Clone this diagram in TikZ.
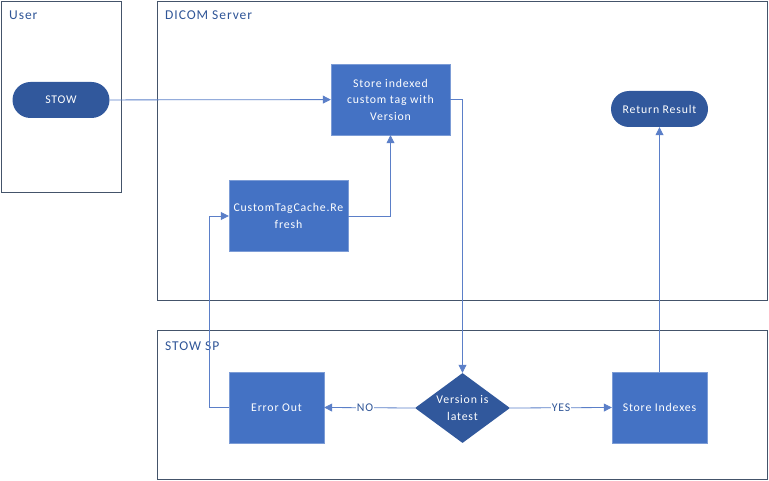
\documentclass[tikz,border=0pt]{standalone}
\usepackage{fontspec}
\setmainfont{Carlito}
\newfontfamily\boxfont[LetterSpace=7]{Carlito}
\usepackage{xcolor}
\usetikzlibrary{arrows.meta}
\usetikzlibrary{shapes.geometric,positioning}
\definecolor{boxblue}{HTML}{4472C4}
\definecolor{termblue}{HTML}{2F5597}
\definecolor{laneline}{HTML}{44546A}
\definecolor{edgeblue}{HTML}{5B7FC8}

\begin{document}
\begin{tikzpicture}[x=1pt,y=-1pt]
  \tikzset{lane/.style = {draw=laneline, line width=0.8pt}}
  \tikzset{lanelabel/.style = {anchor=base west, text=termblue, font=\boxfont\fontsize{13.5}{15}\selectfont, inner sep=0pt}}
  \tikzset{procbox/.style = {shape=rectangle, draw=boxblue!70!white, fill=boxblue, text=white, minimum width=119pt, minimum height=71pt, align=center, inner sep=1pt, font=\boxfont\fontsize{11.8}{16.5}\selectfont}}
  \tikzset{smallbox/.style = {procbox, minimum width=95pt}}
  \tikzset{term/.style = {shape=rectangle, rounded corners=18pt, fill=termblue!90!boxblue, text=white, minimum width=97pt, minimum height=36pt, font=\boxfont\fontsize{11.8}{14}\selectfont}}
  \tikzset{decision/.style = {shape=diamond, fill=termblue!90!boxblue, text=white, minimum width=95pt, minimum height=70pt, aspect=1.36, inner sep=0pt, align=center, font=\boxfont\fontsize{11.8}{16.5}\selectfont}}
  \tikzset{edge/.style = {draw=edgeblue, line width=0.8pt, -{Triangle[length=8pt,width=8pt]}}}
  \tikzset{edgelabel/.style = {fill=white, text=termblue, inner sep=1pt, font=\boxfont\fontsize{11.8}{13}\selectfont}}

  \useasboundingbox (0,0) rectangle (769,481);

  % swim lanes
  \draw[lane] (1,1) rectangle (121,192);
  \draw[lane] (157,1) rectangle (767,300);
  \draw[lane] (157,330) rectangle (767,479);
  \node[lanelabel] (userlbl) at (9,20) {User};
  \node[lanelabel] (serverlbl) at (165,20) {DICOM Server};
  \node[lanelabel] (splbl) at (165,350) {STOW SP};

  % nodes
  \node[term] (stow) at (61,100) {STOW};
  \node[procbox] (store) at (390.5,99.5) {Store indexed\\custom tag with\\Version};
  \node[procbox] (refresh) at (288.5,216) {CustomTagCache.Re\\fresh};
  \node[term] (result) at (659.5,109) {Return Result};
  \node[smallbox] (error) at (276.5,407.5) {Error Out};
  \node[decision] (latest) at (462.5,408) {Version is\\latest};
  \node[smallbox] (indexes) at (659.5,407.5) {Store Indexes};

  % connectors
  \draw[edge] (stow) -- (store);
  \draw[edge] (store.east) -| (latest.north);
  \draw[edge] (latest.west) -- node[edgelabel, pos=0.55] {NO} (error.east);
  \draw[edge] (latest.east) -- node[edgelabel, pos=0.5] {YES} (indexes.west);
  \draw[edge] (error.west) -- ++(-19,0) |- (refresh.west);
  \draw[edge] (refresh.east) -| (store.south);
  \draw[edge] (indexes) -- (result);

\end{tikzpicture}
\end{document}
